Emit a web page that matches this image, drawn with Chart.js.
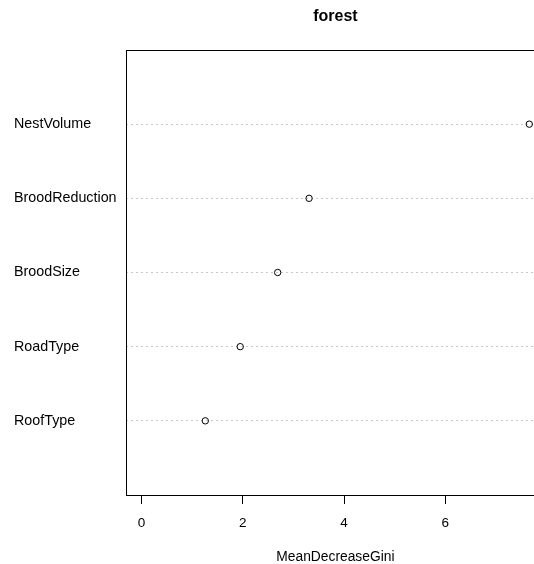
<!DOCTYPE html>
<html>
<head>
<meta charset="utf-8">
<script src="https://cdn.jsdelivr.net/npm/chart.js@4/dist/chart.umd.min.js"></script>
<style>
  html, body { margin: 0; padding: 0; background: #fff; overflow: hidden; width: 534px; height: 564px; }
  #wrap { width: 549px; height: 564px; }
</style>
</head>
<body>
<div id="wrap"><canvas id="chart" width="549" height="564"></canvas></div>
<script>
// variable importance, top row first
const variables = ['NestVolume', 'BroodReduction', 'BroodSize', 'RoadType', 'RoofType'];
const giniValues = [7.66, 3.31, 2.69, 1.95, 1.26];
const xTicks = [0, 2, 4, 6];

const n = variables.length;
// dotchart puts first variable on top: row n .. 1
const points = giniValues.map((v, i) => ({ x: v, y: n - i }));

// R style xlim: c(0, max) with 4% extension
const xMax = Math.max(...giniValues);
const xPad = 0.04 * xMax;

Chart.defaults.font.family = "'Liberation Sans', Arial, Helvetica, sans-serif";
Chart.defaults.color = '#000';

const boxPlugin = {
  id: 'box',
  afterDraw(chart) {
    const a = chart.chartArea;
    const ctx = chart.ctx;
    ctx.save();
    ctx.strokeStyle = '#000';
    ctx.lineWidth = 1;
    ctx.strokeRect(Math.round(a.left) + 0.5, Math.round(a.top) + 0.5,
      Math.round(a.right - a.left), Math.round(a.bottom - a.top));
    ctx.restore();
  }
};

new Chart(document.getElementById('chart'), {
  type: 'scatter',
  data: {
    datasets: [{
      data: points,
      pointStyle: 'circle',
      pointRadius: 3.2,
      pointHoverRadius: 3.2,
      backgroundColor: 'rgba(0,0,0,0)',
      borderColor: '#000',
      borderWidth: 1
    }]
  },
  options: {
    responsive: false,
    animation: false,
    layout: { padding: { left: 14, right: 0, top: 0, bottom: 0 } },
    plugins: {
      legend: { display: false },
      tooltip: { enabled: false }
    },
    scales: {
      // top axis only carries the main title, centred over the plot like R
      top: {
        type: 'linear',
        position: 'top',
        min: 0 - xPad,
        max: xMax + xPad,
        afterFit: s => { s.height = 50; },
        ticks: { display: false },
        grid: { display: false },
        border: { display: false },
        title: { display: true, text: 'forest', font: { size: 16, weight: 'bold' }, padding: { top: 7, bottom: 0 } }
      },
      x: {
        type: 'linear',
        min: 0 - xPad,
        max: xMax + xPad,
        afterBuildTicks: s => { s.ticks = xTicks.map(v => ({ value: v })); },
        afterFit: s => { s.height = 69; },
        ticks: { font: { size: 13.5 }, padding: 11, maxRotation: 0 },
        grid: { drawOnChartArea: false, drawTicks: true, tickLength: 9, color: '#000' },
        border: { display: false },
        title: { display: true, text: 'MeanDecreaseGini', font: { size: 13.8 }, padding: { top: 0, bottom: -1.5 } }
      },
      y: {
        type: 'linear',
        min: 0,
        max: n + 1,
        afterBuildTicks: s => { s.ticks = variables.map((v, i) => ({ value: n - i })); },
        afterFit: s => { s.width = 112; },
        ticks: {
          crossAlign: 'far',
          font: { size: 14.3 },
          callback: v => variables[n - v]
        },
        grid: { drawTicks: false, color: '#c8c8c8', lineWidth: 1 },
        border: { display: false, dash: [2, 3] }
      }
    }
  },
  plugins: [boxPlugin]
});
</script>
</body>
</html>
